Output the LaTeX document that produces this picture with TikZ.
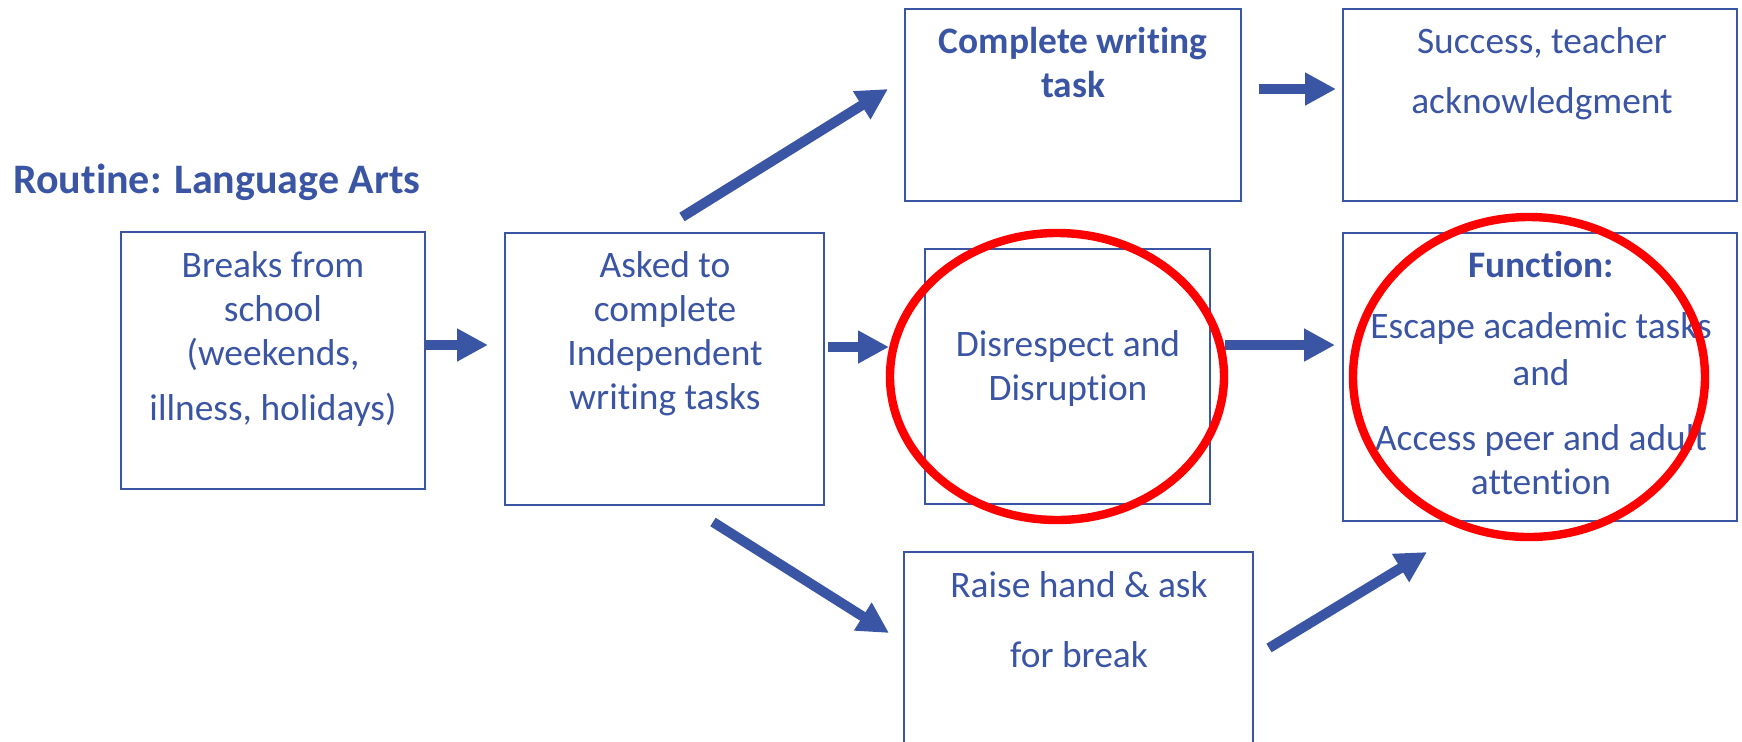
\documentclass[tikz,border=0pt]{standalone}
\usepackage{fontspec}
\setmainfont{Carlito}[RawFeature={-liga;-calt;-dlig}]
\usetikzlibrary{arrows.meta}
\definecolor{ink}{RGB}{59,85,165}
\definecolor{ringred}{RGB}{255,0,0}
\begin{document}
\begin{tikzpicture}[x=0.5pt,y=-0.5pt,
  box/.style={draw=ink, line width=1pt, inner sep=0pt, outer sep=0pt, anchor=north west},
  txt/.style={text=ink, font=\fontsize{18.7}{22}\selectfont, align=center, anchor=base, inner sep=0pt},
  btxt/.style={txt, font=\fontsize{18.7}{22}\selectfont\bfseries},
  barrow/.style={draw=ink, fill=ink, line width=5pt, -{Triangle[length=15.5pt,width=15.5pt]}},
  ring/.style={draw=ringred, line width=4.2pt}]
\useasboundingbox (0,0) rectangle (1742,741);

% heading
\node[text=ink, font=\fontsize{21}{25}\selectfont\bfseries, anchor=base west, inner sep=0pt]
  (title) at (13,193) {Routine: Language Arts};

% boxes
\node[box, minimum width=152pt, minimum height=128.5pt] (breaks) at (121,232) {};
\node[box, minimum width=159.5pt, minimum height=136pt] (asked) at (505,233) {};
\node[box, minimum width=168pt, minimum height=96pt] (complete) at (905,9) {};
\node[box, minimum width=197pt, minimum height=96pt] (success) at (1343,9) {};
\node[box, minimum width=142.5pt, minimum height=127.5pt] (disrupt) at (925,249) {};
\node[box, minimum width=197pt, minimum height=144pt] (function) at (1343,233) {};
\node[box, minimum width=174.5pt, minimum height=110pt] (raise) at (904,552) {};

% box texts (each placed by the baseline of its last line)
\node[txt] (breakst) at (273,420) {Breaks from\\school\\(weekends,\\[5.5pt]illness, holidays)};
\node[txt] (askedt) at (665,409) {Asked to\\complete\\Independent\\writing tasks};
\node[btxt] (completet) at (1073,97) {Complete writing\\task};
\node[txt] (successt) at (1542,113) {Success, teacher\\[8pt]acknowledgment};
\node[txt] (disruptt) at (1068,400) {Disrespect and\\Disruption};
\node[txt] (functiont) at (1541,494) {\textbf{Function:}\\[8.5pt]Escape academic tasks\\[1.5pt]and\\[10.5pt]Access peer and adult\\attention};
\node[txt] (raiset) at (1079,667) {Raise hand \& ask\\[13pt]for break};

% arrow ends
\coordinate (a1s) at (425,345);  \coordinate (a1e) at (488,345);
\coordinate (a2s) at (682,217);  \coordinate (a2e) at (888,89);
\coordinate (a3s) at (828,347);  \coordinate (a3e) at (889,347);
\coordinate (a4s) at (713,522);  \coordinate (a4e) at (889,633);
\coordinate (a5s) at (1259,89);  \coordinate (a5e) at (1336,89);
\coordinate (a6s) at (1225,345); \coordinate (a6e) at (1335,345);
\coordinate (a7s) at (1269,648); \coordinate (a7e) at (1427,552);

\draw[barrow] (a1s) -- (a1e);
\draw[barrow] (a2s) -- (a2e);
\draw[barrow] (a3s) -- (a3e);
\draw[barrow] (a4s) -- (a4e);
\draw[barrow] (a5s) -- (a5e);
\draw[barrow] (a6s) -- (a6e);
\draw[barrow] (a7s) -- (a7e);

% highlight rings
\draw[ring] (1057,376.5) ellipse [x radius=167, y radius=143.5];
\draw[ring] (1529,377) ellipse [x radius=176, y radius=160];
\end{tikzpicture}
\end{document}
